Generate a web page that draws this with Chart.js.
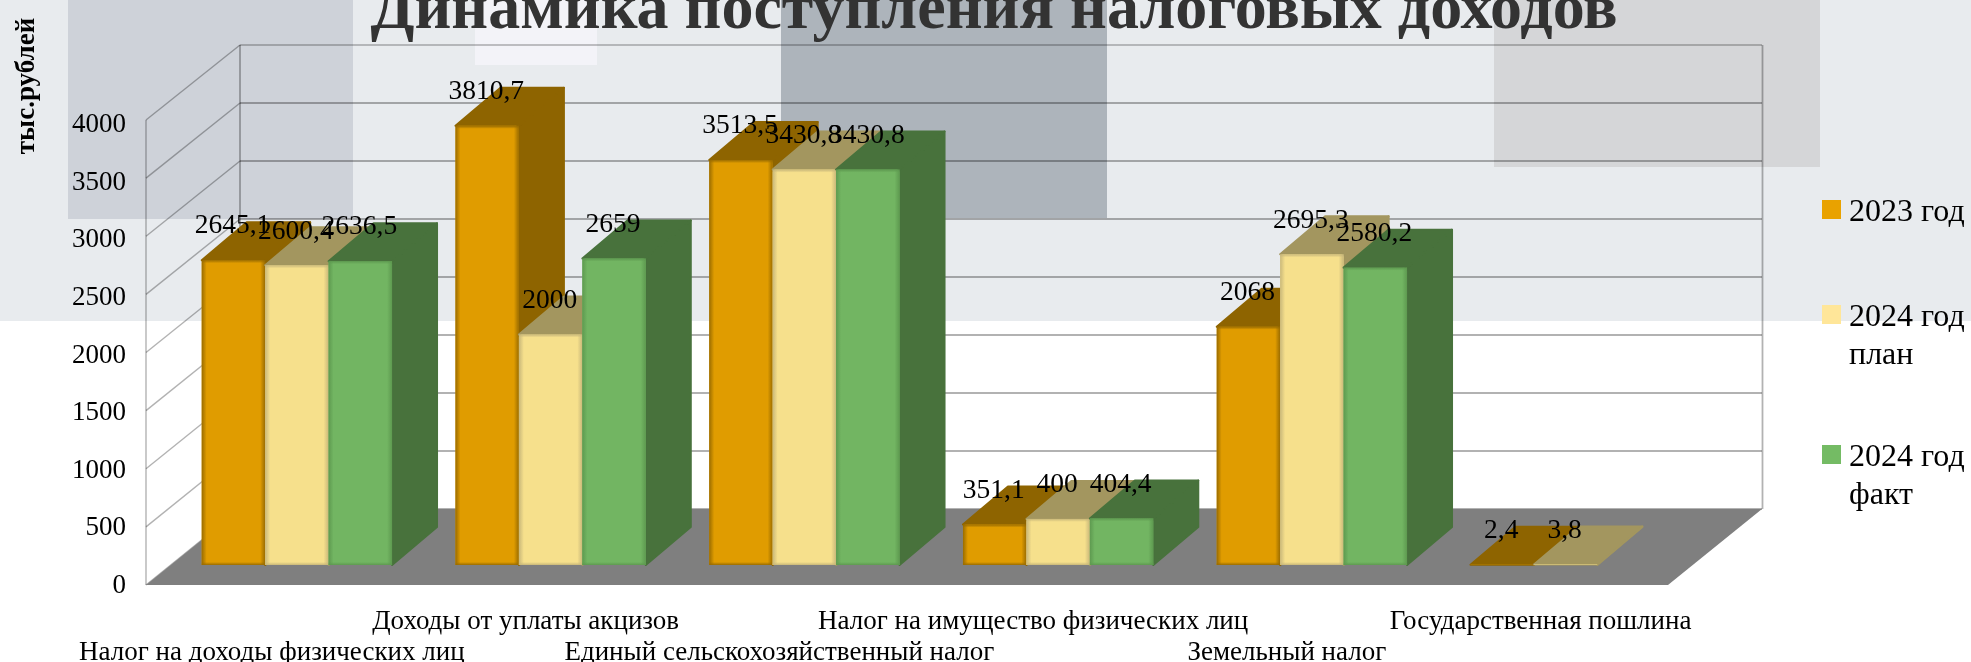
<!DOCTYPE html>
<html><head><meta charset="utf-8">
<script src="https://cdn.jsdelivr.net/npm/chart.js@4"></script>
<style>html,body{margin:0;padding:0;background:#fff}#w{width:1971px;height:662px;position:relative}canvas{display:block}</style>
</head><body><div id="w"><canvas id="c"></canvas></div>
<script>
const categories = [
  ['', 'Налог на доходы физических лиц'],
  ['Доходы от уплаты акцизов', ''],
  ['', 'Единый сельскохозяйственный налог'],
  ['Налог на имущество физических лиц', ''],
  ['', 'Земельный налог'],
  ['Государственная пошлина', '']
];
const seriesNames = ['2023 год', '2024 год план', '2024 год факт'];
const values2023 = [2645.1, 3810.7, 3513.5, 351.1, 2068, 2.4];
const valuesPlan = [2600.4, 2000, 3430.8, 400, 2695.3, 3.8];
const valuesFact = [2636.5, 2659, 3430.8, 404.4, 2580.2, null];
const chartTitle = 'Динамика поступления налоговых доходов';
const axisTitle = 'тыс.рублей';
const yTicks = [0,500,1000,1500,2000,2500,3000,3500,4000];

const SERIF = '"Liberation Serif"';
const front = ['#E09C00','#F6E08C','#72B562'];
const dark  = ['#8E6400','#A3965F','#48723C'];
const edge  = ['#9A6C00','#C9B87A','#5E9A50'];
const swatch= ['#E9A200','#FFE699','#74BB64'];
const legendLines = [['2023 год'],['2024 год','план'],['2024 год','факт']];
const legendY = [210,315,455];
const DX = 45, DY = -38;

function drawBarDepth(c, b, i){
  const l=b.x-b.width/2, r=b.x+b.width/2, t=Math.min(b.y,b.base), g=b.base;
  c.save();
  c.lineJoin='round';
  c.fillStyle=dark[i];c.strokeStyle=dark[i];c.lineWidth=2;
  c.beginPath();c.moveTo(r,g);c.lineTo(r+DX,g+DY);c.lineTo(r+DX,t+DY);c.lineTo(r,t);c.closePath();c.fill();c.stroke();
  c.beginPath();c.moveTo(l,t);c.lineTo(l+DX,t+DY);c.lineTo(r+DX,t+DY);c.lineTo(r,t);c.closePath();c.fill();c.stroke();
  c.restore();
}
function drawBarEdges(c, b, i){
  const l=b.x-b.width/2, r=b.x+b.width/2, t=Math.min(b.y,b.base), g=b.base, h=g-t;
  if(h<4) return;
  const e=5;
  const mk=(x0,x1)=>{const gr=c.createLinearGradient(x0,0,x1,0);gr.addColorStop(0,edge[i]);gr.addColorStop(1,edge[i]+'00');return gr;};
  c.fillStyle=mk(l,l+e);c.fillRect(l,t,e,h);
  c.fillStyle=mk(r,r-e);c.fillRect(r-e,t,e,h);
  const mv=(y0,y1)=>{const gr=c.createLinearGradient(0,y0,0,y1);gr.addColorStop(0,edge[i]);gr.addColorStop(1,edge[i]+'00');return gr;};
  c.fillStyle=mv(t,t+3);c.fillRect(l,t,r-l,3);
  c.fillStyle=mv(g,g-3);c.fillRect(l,g-3,r-l,3);
}

const scene = {
  id:'scene',
  beforeDraw(chart){
    const c = chart.ctx, y = chart.scales.y;
    c.save();
    [[0,0,1971,321,'#E8EBEE'],[68,0,285,219,'#CED2D9'],[475,0,122,65,'#F3F3F8'],[781,0,326,218,'#ADB4BB'],[1494,0,326,167,'#D5D6D8']]
      .forEach(r=>{c.fillStyle=r[4];c.fillRect(r[0],r[1],r[2],r[3]);});
    const f = v => (y.getPixelForValue(0)-y.getPixelForValue(v))/(y.getPixelForValue(0)-y.getPixelForValue(4000));
    const fy = v => 585-465*f(v), by = v => 509-464*f(v);
    c.strokeStyle='rgba(0,0,0,0.3)';
    yTicks.forEach(v=>{
      c.lineWidth = v===4000 ? 1.3 : 2.2;
      c.beginPath();c.moveTo(240,by(v));c.lineTo(1762,by(v));c.stroke();
      c.lineWidth=1.4;
      c.beginPath();c.moveTo(146,fy(v));c.lineTo(240,by(v));c.stroke();
    });
    c.lineWidth=1.4;
    c.beginPath();c.moveTo(146,fy(4000));c.lineTo(146,fy(0));c.stroke();
    c.lineWidth=1.8;
    c.beginPath();c.moveTo(240,by(4000));c.lineTo(240,by(0));c.stroke();
    c.beginPath();c.moveTo(1762.5,by(4000));c.lineTo(1762.5,by(0));c.stroke();
    c.fillStyle='#7F7F7F';
    c.beginPath();c.moveTo(146,fy(0));c.lineTo(1668,fy(0));c.lineTo(1762,by(0));c.lineTo(240,by(0));c.closePath();c.fill();
    c.restore();
  },
  beforeDatasetsDraw(chart){
    const c = chart.ctx;
    // series are painted left to right so that each one covers the side of its left neighbour
    chart.data.datasets.forEach((d,i)=>{
      const meta = chart.getDatasetMeta(i);
      const has = k => d.data[k] !== null;
      meta.data.forEach((b,k)=>{ if(has(k)) drawBarDepth(c,b,i); });
      meta.controller.draw();
      meta.data.forEach((b,k)=>{ if(has(k)) drawBarEdges(c,b,i); });
    });
    return false;
  },
  afterDraw(chart){
    const c = chart.ctx;
    c.save();
    c.fillStyle='#000';c.textAlign='center';c.textBaseline='middle';
    c.font='27.5px '+SERIF;
    chart.data.datasets.forEach((d,i)=>{
      chart.getDatasetMeta(i).data.forEach((b,k)=>{
        const v=d.data[k];
        if(v===null) return;
        c.fillText(String(v).replace('.',','),b.x-1,b.y-34);
      });
    });
    c.textAlign='left';c.font='32px '+SERIF;
    legendLines.forEach((lines,i)=>{
      c.fillStyle=swatch[i];c.fillRect(1822,legendY[i]-10,19,19);
      c.fillStyle='#000';
      lines.forEach((s,j)=>c.fillText(s,1849,legendY[i]+3+j*38));
    });
    c.translate(27,86);c.rotate(-Math.PI/2);c.textAlign='center';
    c.font='bold 27px '+SERIF;c.fillText(axisTitle,0,0);
    c.restore();
  }
};

new Chart(document.getElementById('c'),{
  type:'bar',
  data:{labels:categories,datasets:[
    {label:seriesNames[0],data:values2023,backgroundColor:front[0]},
    {label:seriesNames[1],data:valuesPlan,backgroundColor:front[1]},
    {label:seriesNames[2],data:valuesFact,backgroundColor:front[2]}
  ]},
  options:{
    responsive:true,maintainAspectRatio:false,animation:false,
    categoryPercentage:0.75,barPercentage:1,
    borderRadius:3,
    layout:{padding:{left:17,right:0,top:0,bottom:0}},
    plugins:{
      legend:{display:false},tooltip:{enabled:false},
      title:{display:true,text:chartTitle,color:'#333333',
        font:{family:SERIF,size:64,weight:'bold',lineHeight:1},
        padding:{top:-21,bottom:61}}
    },
    scales:{
      x:{grid:{display:false},border:{display:false},
        afterFit(s){s.height=97;},
        ticks:{autoSkip:false,maxRotation:0,minRotation:0,labelOffset:-25,padding:33,color:'#000',font:{family:SERIF,size:27,lineHeight:1.16}}},
      y:{min:0,max:4000,grid:{display:false},border:{display:false},
        afterFit(s){s.width=153;},
        afterBuildTicks(s){s.ticks=yTicks.map(v=>({value:v}));},
        ticks:{padding:36,labelOffset:21,color:'#000',font:{family:SERIF,size:27},callback:v=>String(v)}},
      legendSpace:{position:'right',grid:{display:false},border:{display:false},ticks:{display:false},
        afterFit(s){s.width=278.5;}}
    }
  },
  plugins:[scene]
});
</script></body></html>
